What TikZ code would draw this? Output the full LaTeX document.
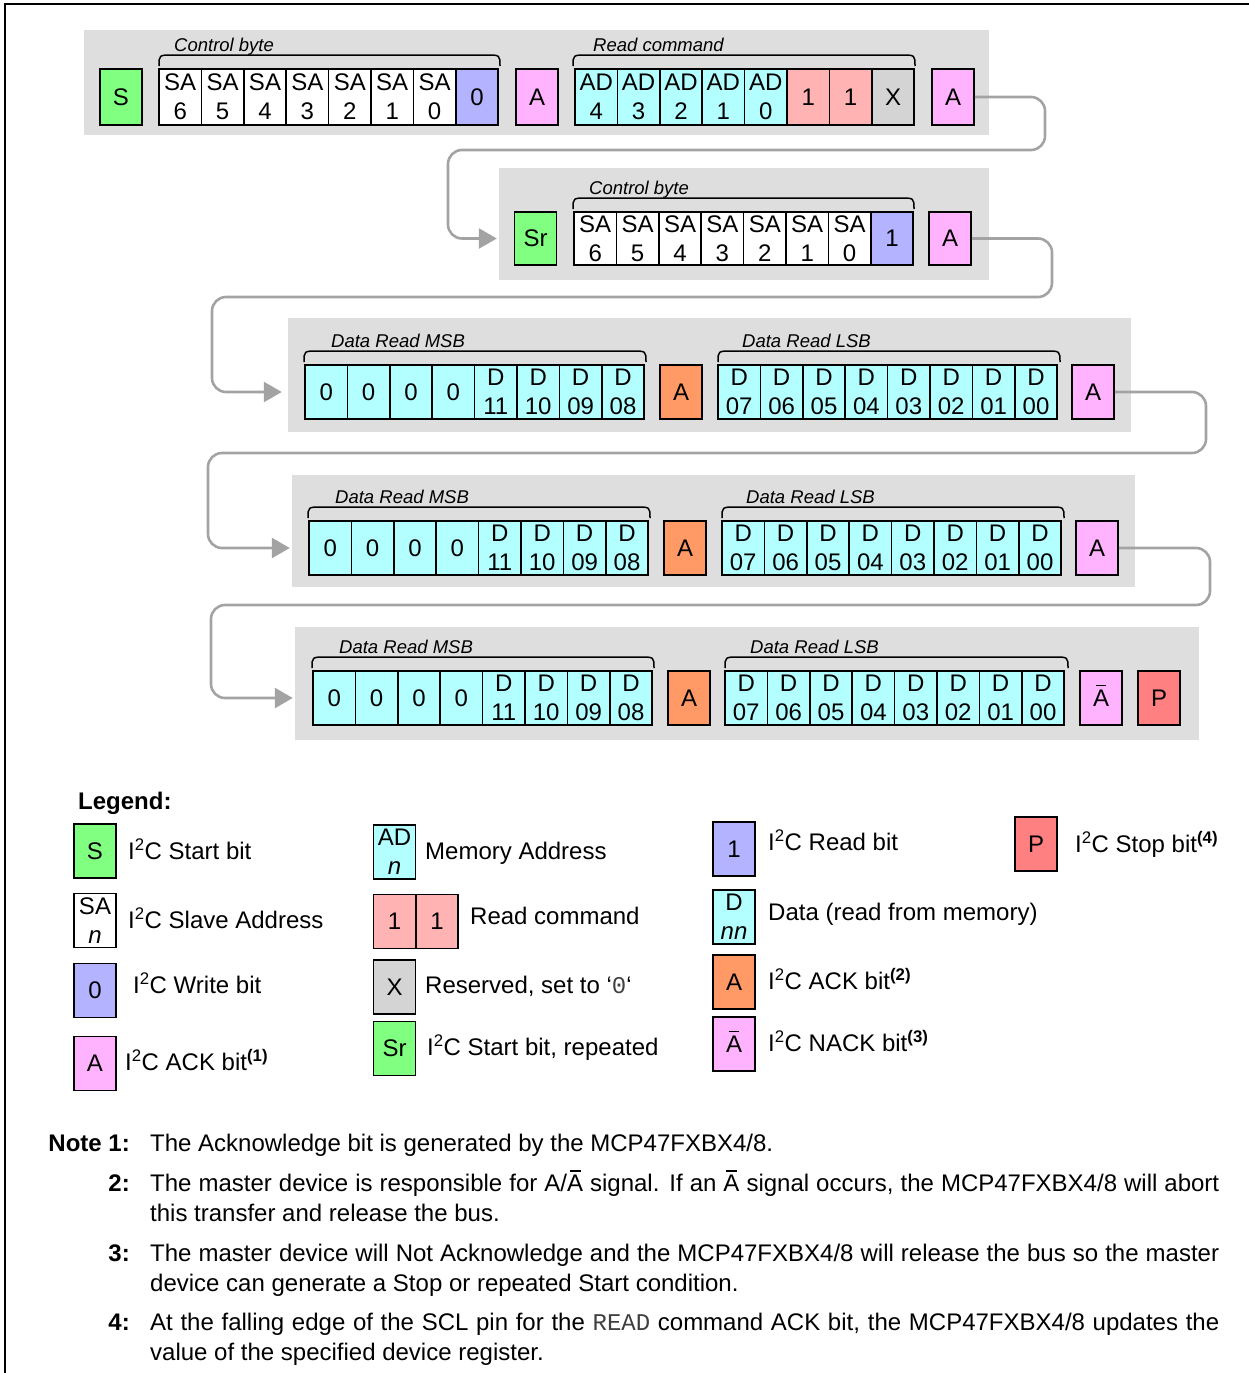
\documentclass[tikz,border=0pt]{standalone}
\usepackage{fontspec}
\setmainfont{Liberation Sans}
\setmonofont{Liberation Mono}
\usetikzlibrary{arrows.meta}
\definecolor{cgreen}{HTML}{80FF80}
\definecolor{cblue}{HTML}{B3B3FF}
\definecolor{cpink}{HTML}{FFB3FF}
\definecolor{ccyan}{HTML}{B3FFFF}
\definecolor{csalmon}{HTML}{FFB3B3}
\definecolor{cgrayx}{HTML}{D4D4D4}
\definecolor{corange}{HTML}{FF9966}
\definecolor{cred}{HTML}{FF8080}
\definecolor{cband}{HTML}{DEDEDE}
\definecolor{cconn}{HTML}{A3A3A3}
\newcommand\Abar{\ooalign{A\cr\hidewidth\raisebox{0.84em}{\rule{0.45em}{0.065em}}\hidewidth\cr}}
\newcommand\mybrace[5]{% x1, x2, cell top, label x, label
  \draw[bracestyle] (#1,#3-3) .. controls (#1,#3-14) .. (#1+14,#3-14) -- (#2-14,#3-14) .. controls (#2,#3-14) .. (#2,#3-3);
  \node[lbl] at (#4,#3-18) {#5};}
\newcommand\datarow[4]{%
  \foreach \i in {0,...,3} \node[cell,fill=ccyan] (#1m\i) at ({#2+21.2+\i*42.4},#4) {0};
  \foreach \t [count=\i from 4] in {11,10,09,08} \node[cell,fill=ccyan] (#1m\i) at ({#2+21.2+\i*42.4},#4) {D\\\t};
  \foreach \t [count=\i from 0] in {07,06,05,04,03,02,01,00} \node[cell,fill=ccyan] (#1l\i) at ({#3+21.2+\i*42.4},#4) {D\\\t};
}
\begin{document}
\begin{tikzpicture}[x=1pt,y=-1pt,
  box/.style={draw=black, line width=1.6pt, minimum width=42pt, minimum height=54pt, inner sep=0pt, align=center, font=\fontsize{24}{29}\selectfont},
  cell/.style={box, minimum width=42.4pt},
  band/.style={fill=cband, draw=none, inner sep=0pt},
  bracestyle/.style={line width=1.5pt, black},
  lbl/.style={anchor=base west, inner sep=0pt, font=\itshape\fontsize{18.5}{22}\selectfont},
  ltxt/.style={anchor=base west, inner sep=0pt, font=\fontsize{24}{29}\selectfont},
  notelbl/.style={anchor=base east, inner sep=0pt, font=\bfseries\fontsize{24}{30}\selectfont},
  notetxt/.style={anchor=north west, inner sep=0pt, text width=1069pt, align=justify, font=\fontsize{24}{30}\selectfont},
  conn/.style={draw=cconn, line width=2.6pt, rounded corners=14pt, -{Triangle[length=18pt,width=20pt]}}
]
\useasboundingbox (0,0) rectangle (1249,1373);
% frame
\draw[line width=2pt] (5,1373) -- (5,4) -- (1249,4);

% bands
\node[band, minimum width=905pt, minimum height=105pt] (b1) at (536.5,82.5) {};
\node[band, minimum width=490pt, minimum height=112pt] (b2) at (744,224) {};
\node[band, minimum width=843pt, minimum height=114pt] (b3) at (709.5,375) {};
\node[band, minimum width=843pt, minimum height=112pt] (b4) at (713.5,531) {};
\node[band, minimum width=904pt, minimum height=113pt] (b5) at (747,683.5) {};

% row 1
\node[box, fill=cgreen, minimum height=56pt] (r1s) at (121,97) {S};
\foreach \t [count=\i from 0] in {6,5,4,3,2,1,0}
  \node[cell, fill=white, minimum height=56pt] (r1c\i) at ({159+21.2+\i*42.4},97) {SA\\\t};
\node[cell, fill=cblue, minimum height=56pt] (r1c7) at ({159+21.2+7*42.4},97) {0};
\node[box, fill=cpink, minimum height=56pt] (r1a1) at (537,97) {A};
\foreach \t [count=\i from 0] in {4,3,2,1,0}
  \node[cell, fill=ccyan, minimum height=56pt] (r1d\i) at ({575+21.2+\i*42.4},97) {AD\\\t};
\node[cell, fill=csalmon, minimum height=56pt] (r1d5) at ({575+21.2+5*42.4},97) {1};
\node[cell, fill=csalmon, minimum height=56pt] (r1d6) at ({575+21.2+6*42.4},97) {1};
\node[cell, fill=cgrayx, minimum height=56pt] (r1d7) at ({575+21.2+7*42.4},97) {X};
\node[box, fill=cpink, minimum height=56pt] (r1a2) at (953,97) {A};
\mybrace{159}{500}{69}{174}{Control byte}
\mybrace{573}{915}{69}{593}{Read command}

% row 2
\node[box, fill=cgreen, minimum height=53pt] (r2s) at (535.5,238.5) {Sr};
\foreach \t [count=\i from 0] in {6,5,4,3,2,1,0}
  \node[cell, fill=white, minimum height=53pt] (r2c\i) at ({574+21.2+\i*42.4},238.5) {SA\\\t};
\node[cell, fill=cblue, minimum height=53pt] (r2c7) at ({574+21.2+7*42.4},238.5) {1};
\node[box, fill=cpink, minimum height=53pt] (r2a) at (950,238.5) {A};
\mybrace{573}{914}{212}{589}{Control byte}

% row 3
\datarow{r3}{305}{718}{392}
\node[box, fill=corange] (r3a1) at (681,392) {A};
\node[box, fill=cpink] (r3a2) at (1093,392) {A};
\mybrace{304}{646}{365}{331}{Data Read MSB}
\mybrace{718}{1060}{365}{742}{Data Read LSB}

% row 4
\datarow{r4}{309}{722}{548}
\node[box, fill=corange] (r4a1) at (685,548) {A};
\node[box, fill=cpink] (r4a2) at (1097,548) {A};
\mybrace{308}{650}{521}{335}{Data Read MSB}
\mybrace{722}{1064}{521}{746}{Data Read LSB}

% row 5
\datarow{r5}{313}{725}{698}
\node[box, fill=corange] (r5a1) at (689,698) {A};
\node[box, fill=cpink] (r5na) at (1101,698) {\Abar};
\node[box, fill=cred] (r5p) at (1159,698) {P};
\mybrace{312}{654}{671}{339}{Data Read MSB}
\mybrace{725}{1068}{671}{750}{Data Read LSB}

% connectors
\draw[conn, shorten >=2pt] (r1a2.east) -- (1045,97) -- (1045,150) -- (448,150) |- (b2.west |- r2s.west);
\draw[conn, shorten >=6pt] (r2a.east) -- (1052,238.5) -- (1052,297) -- (212,297) |- (b3.west |- r3m0.west);
\draw[conn, shorten >=2pt] (r3a2.east) -- (1206,392) -- (1206,453) -- (208,453) |- (b4.west |- r4m0.west);
\draw[conn, shorten >=2pt] (r4a2.east) -- (1210,548) -- (1210,605) -- (211,605) |- (b5.west |- r5m0.west);

% legend
\node[anchor=base west, inner sep=0pt, font=\bfseries\fontsize{24}{29}\selectfont] (legt) at (78,809) {Legend:};
\node[box, fill=cgreen] (lS) at (95,851) {S};
\node[ltxt] (lSt) at (128,859.5) {I\textsuperscript{2}C Start bit};
\node[box, fill=white] (lSA) at (95,920.5) {SA\\\textit{n}};
\node[ltxt] (lSAt) at (128,928.5) {I\textsuperscript{2}C Slave Address};
\node[box, fill=cblue] (lW) at (95,990.5) {0};
\node[ltxt] (lWt) at (133,993.5) {I\textsuperscript{2}C Write bit};
\node[box, fill=cpink] (lA) at (95,1063.5) {A};
\node[ltxt] (lAt) at (125,1070.5) {I\textsuperscript{2}C ACK bit\textsuperscript{\textbf{(1)}}};

\node[box, fill=ccyan] (lAD) at (394.5,852) {AD\\\textit{n}};
\node[ltxt] (lADt) at (425,859.5) {Memory Address};
\node[box, fill=csalmon] (lR1) at (394.5,921.5) {1};
\node[box, fill=csalmon] (lR2) at (437,921.5) {1};
\node[ltxt] (lRt) at (470,924.5) {Read command};
\node[box, fill=cgrayx] (lX) at (394.5,987) {X};
\node[ltxt] (lXt) at (425,993.5) {Reserved, set to ‘{\color{black!75}\texttt{0}}‘};
\node[box, fill=cgreen] (lSr) at (394.5,1048.5) {Sr};
\node[ltxt] (lSrt) at (427,1055.5) {I\textsuperscript{2}C Start bit, repeated};

\node[box, fill=cblue] (lRd) at (734,849) {1};
\node[ltxt] (lRdt) at (768,850.5) {I\textsuperscript{2}C Read bit};
\node[box, fill=ccyan] (lD) at (734,917) {D\\\textit{nn}};
\node[ltxt] (lDt) at (768,920.5) {Data (read from memory)};
\node[box, fill=corange] (lAo) at (734,982) {A};
\node[ltxt] (lAot) at (768,989.5) {I\textsuperscript{2}C ACK bit\textsuperscript{\textbf{(2)}}};
\node[box, fill=cpink] (lNA) at (734,1044) {\Abar};
\node[ltxt] (lNAt) at (768,1051.5) {I\textsuperscript{2}C NACK bit\textsuperscript{\textbf{(3)}}};
\node[box, fill=cred] (lP) at (1036,844) {P};
\node[ltxt] (lPt) at (1075,852.5) {I\textsuperscript{2}C Stop bit\textsuperscript{\textbf{(4)}}};

% notes
\node[notelbl] (n1l) at (130,1151.5) {Note 1:};
\node[notetxt] (n1) at (150,1130.5) {\strut The Acknowledge bit is generated by the MCP47FXBX4/8.};
\node[notelbl] (n2l) at (130,1191.5) {2:};
\node[notetxt] (n2) at (150,1170.5) {\strut The master device is responsible for A/\Abar{} signal. If an \Abar{} signal occurs, the MCP47FXBX4/8 will abort this transfer and release the bus.};
\node[notelbl] (n3l) at (130,1261.5) {3:};
\node[notetxt] (n3) at (150,1240.5) {\strut The master device will Not Acknowledge and the MCP47FXBX4/8 will release the bus so the master device can generate a Stop or repeated Start condition.};
\node[notelbl] (n4l) at (130,1330.5) {4:};
\node[notetxt] (n4) at (150,1309.5) {\strut At the falling edge of the SCL pin for the {\color{black!75}\texttt{READ}} command ACK bit, the MCP47FXBX4/8 updates the value of the specified device register.};
\end{tikzpicture}
\end{document}
